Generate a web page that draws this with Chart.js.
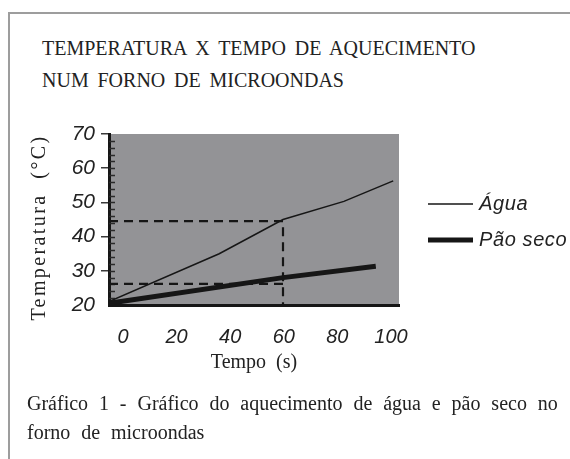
<!DOCTYPE html>
<html lang="pt">
<head>
<meta charset="utf-8">
<script src="https://cdn.jsdelivr.net/npm/chart.js@4.4.1/dist/chart.umd.min.js"></script>
<style>
    html, body { margin: 0; padding: 0; background: #fff; }
    body { width: 570px; height: 459px; position: relative; overflow: hidden; font-family: 'Liberation Serif', serif; color: #222; }
    .frame { position: absolute; left: 8px; top: 12px; width: 620px; height: 520px; border-top: 2px solid #9d9d9d; border-left: 2px solid #9d9d9d; }
    .title { position: absolute; left: 42px; top: 32px; font-size: 20px; line-height: 32px; word-spacing: 3.8px; white-space: nowrap; }
    .caption { position: absolute; left: 27px; top: 389px; font-size: 20px; line-height: 29px; word-spacing: 5.9px; white-space: nowrap; }
    #wrap { position: absolute; left: 0; top: 0; width: 570px; height: 459px; }
</style>
</head>
<body>
<div class="frame"></div>
<div class="title">TEMPERATURA X TEMPO DE AQUECIMENTO<br>NUM FORNO DE MICROONDAS</div>
<div id="wrap"><canvas id="chart"></canvas></div>
<div class="caption">Gráfico 1 - Gráfico do aquecimento de água e pão seco no<br>forno de microondas</div>
<script>
// values
const aguaTempo = [0, 38, 60, 81, 98];
const aguaTemp = [21, 35, 45, 50.3, 56.3];
const paoTempo = [0, 60, 92];
const paoTemp = [20.5, 28, 31.3];

// dashed guide lines (reading at t = 60 s)
const guideAguaTempo = [0, 60, 60];
const guideAguaTemp = [44.5, 44.5, 20];
const guidePaoTempo = [0, 60];
const guidePaoTemp = [26.2, 26.2];

const xTicks = [0, 20, 40, 60, 80, 100];
const yMin = 20, yMax = 70, yStep = 10, yMinorStep = 2;

const INK = '#161616';
const PLOT_BG = '#939396';
const SANS_ITALIC = { family: "'Liberation Sans', Arial, sans-serif", size: 21, style: 'italic' };

const pts = (xs, ys) => xs.map((x, i) => ({ x, y: ys[i] }));

const plotBackground = {
    id: 'plotBackground',
    beforeDraw(chart) {
        const { ctx, chartArea: a } = chart;
        ctx.save();
        ctx.fillStyle = PLOT_BG;
        ctx.fillRect(a.left, a.top, a.right - a.left, a.bottom - a.top);
        ctx.restore();
    },
    beforeDatasetsDraw(chart) {
        // small inner ticks along the temperature axis
        const { ctx, chartArea: a } = chart;
        const y = chart.scales.y;
        ctx.save();
        ctx.strokeStyle = '#2a2a2a';
        ctx.lineWidth = 1.5;
        ctx.beginPath();
        for (let v = yMin + yMinorStep; v < yMax; v += yMinorStep) {
            const py = Math.round(y.getPixelForValue(v)) + 0.5;
            ctx.moveTo(a.left, py);
            ctx.lineTo(a.left + 6, py);
        }
        ctx.stroke();
        ctx.restore();
    },
};

const sideTexts = {
    id: 'sideTexts',
    afterDraw(chart) {
        const { ctx, chartArea: a } = chart;
        ctx.save();

        // vertical axis title, letter-spaced
        ctx.translate(40, (a.top + a.bottom) / 2 + 8);
        ctx.rotate(-Math.PI / 2);
        ctx.font = "20px 'Liberation Serif', serif";
        ctx.letterSpacing = '2.4px';
        ctx.fillStyle = '#222';
        ctx.textAlign = 'center';
        ctx.textBaseline = 'middle';
        ctx.fillText('Temperatura  (°C)', 0, 0);
        ctx.setTransform(1, 0, 0, 1, 0, 0);
        ctx.letterSpacing = '0.6px';

        // legend
        const items = chart.data.datasets.filter((d) => d.inLegend);
        const x0 = a.right + 29;
        items.forEach((d, i) => {
            const yy = 204 + i * 36;
            ctx.strokeStyle = INK;
            ctx.lineWidth = d.borderWidth;
            ctx.beginPath();
            ctx.moveTo(x0, yy);
            ctx.lineTo(x0 + 45, yy);
            ctx.stroke();
            ctx.font = "italic 20px 'Liberation Sans', Arial, sans-serif";
            ctx.fillStyle = '#222';
            ctx.textAlign = 'left';
            ctx.textBaseline = 'middle';
            ctx.fillText(d.label, x0 + 51, yy);
        });
        ctx.restore();
    },
};

new Chart(document.getElementById('chart'), {
    type: 'line',
    data: {
        datasets: [
            {
                label: 'Água',
                data: pts(aguaTempo, aguaTemp),
                borderColor: INK,
                borderWidth: 1.5,
                inLegend: true,
            },
            {
                label: 'Pão seco',
                data: pts(paoTempo, paoTemp),
                borderColor: INK,
                borderWidth: 5,
                clip: false,
                inLegend: true,
            },
            {
                label: 'guia água',
                data: pts(guideAguaTempo, guideAguaTemp),
                borderColor: INK,
                borderWidth: 2.2,
                borderDash: [9, 6],
            },
            {
                label: 'guia pão',
                data: pts(guidePaoTempo, guidePaoTemp),
                borderColor: INK,
                borderWidth: 2.2,
                borderDash: [9, 6],
            },
        ],
    },
    options: {
        responsive: true,
        maintainAspectRatio: false,
        animation: false,
        events: [],
        elements: { point: { radius: 0 }, line: { tension: 0, fill: false } },
        layout: { padding: { left: 26, top: 134, right: 171, bottom: 80 } },
        plugins: { legend: { display: false }, tooltip: { enabled: false } },
        scales: {
            x: { type: 'linear', min: 0, max: 100, display: false },
            xLabels: {
                type: 'linear',
                position: 'bottom',
                min: -5.2,
                max: 103,
                afterBuildTicks: (scale) => { scale.ticks = xTicks.map((value) => ({ value })); },
                afterFit: (scale) => { scale.height = 74; },
                ticks: { font: { ...SANS_ITALIC, size: 20 }, color: '#222', padding: 20, maxRotation: 0, autoSkip: false },
                grid: { display: false, drawTicks: false },
                border: { display: true, color: INK, width: 3 },
                title: {
                    display: true,
                    text: 'Tempo  (s)',
                    color: '#222',
                    font: { family: "'Liberation Serif', serif", size: 20 },
                    padding: { top: 4, bottom: 4 },
                },
            },
            y: {
                min: yMin,
                max: yMax,
                afterFit: (scale) => { scale.width = 83; },
                ticks: { stepSize: yStep, font: SANS_ITALIC, color: '#222', padding: 6 },
                grid: {
                    drawOnChartArea: false,
                    tickLength: 8,
                    lineWidth: 1.5,
                    color: (c) => (c.tick && c.tick.value === yMin ? 'rgba(0,0,0,0)' : '#3a3a3a'),
                },
                border: { display: true, color: INK, width: 3 },
            },
        },
    },
    plugins: [plotBackground, sideTexts],
});
</script>
</body>
</html>
